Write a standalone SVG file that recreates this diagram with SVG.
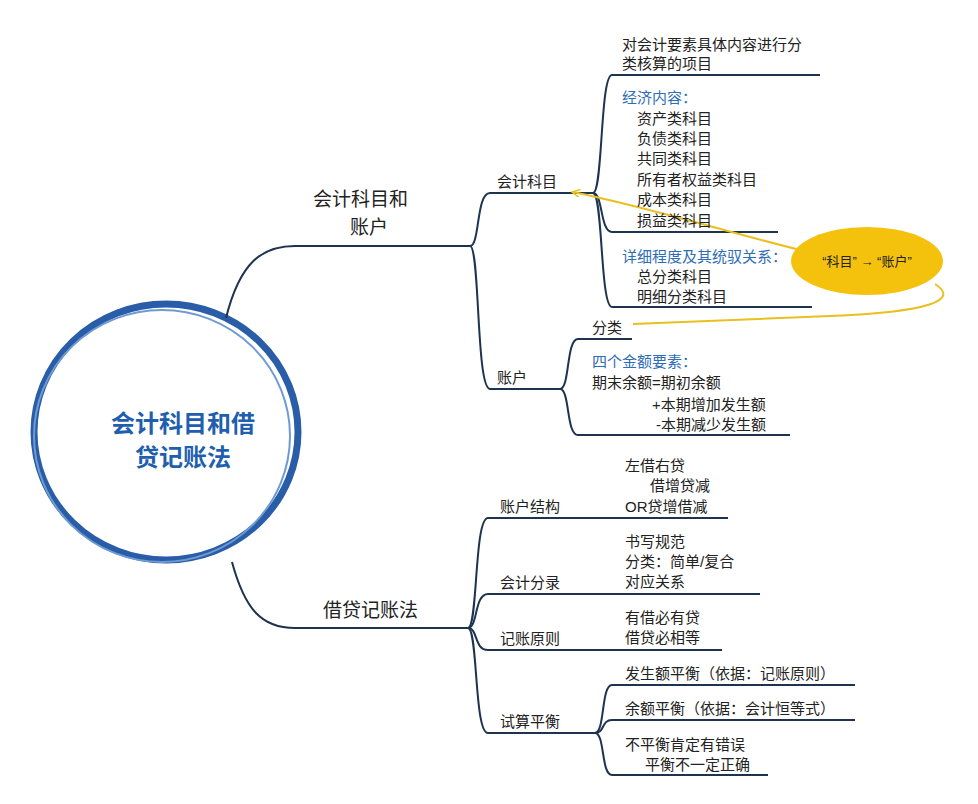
<svg xmlns="http://www.w3.org/2000/svg" width="978" height="804" viewBox="0 0 978 804">
<style>
text{font-family:"Liberation Sans","Noto Sans CJK SC",sans-serif;font-size:15px;fill:#222}
.b{fill:#2f6db5}
.m{font-size:19px}
.c{font-size:24px;font-weight:bold;fill:#1f5fae}
.l{fill:none;stroke:#1e3350;stroke-width:2}
.y{fill:none;stroke:#e8c020;stroke-width:2}
</style>
<defs><marker id="ar" markerWidth="10" markerHeight="10" refX="8" refY="4" orient="auto" markerUnits="userSpaceOnUse"><path d="M0,0 L8,4 L0,8" fill="none" stroke="#e8c020" stroke-width="1.5"/></marker></defs>
<rect width="978" height="804" fill="#fff"/>
<g id="center">
<ellipse cx="166" cy="432" rx="132" ry="128" fill="none" stroke="#2a5da8" stroke-width="7"/>
<ellipse cx="162" cy="436" rx="128" ry="126" fill="none" stroke="#6f9bd3" stroke-width="2"/>
<text class="c" x="183" y="432" text-anchor="middle">会计科目和借</text>
<text class="c" x="183" y="466" text-anchor="middle">贷记账法</text>
</g>
<g id="connectors">
<path class="l" d="M226,318 C240,262 262,246 295,246 L470,246"/>
<path class="l" d="M470,246 C480,246 476,193 490,193 L593,193"/>
<path class="l" d="M470,246 C480,246 476,389 490,389 L560,389"/>
<path class="l" d="M593,193 C603,193 600,75 612,75 L820,75"/>
<path class="l" d="M593,193 C603,193 600,232 612,232 L778,232"/>
<path class="l" d="M593,193 C603,193 600,307 612,307 L812,307"/>
<path class="l" d="M560,389 C570,389 566,339 578,339 L632,339"/>
<path class="l" d="M560,389 C570,389 566,435 578,435 L790,435"/>
<path class="l" d="M232,562 C245,610 262,628 295,628 L468,628"/>
<path class="l" d="M468,628 C478,628 474,518 488,518 L728,518"/>
<path class="l" d="M468,628 C478,628 474,594 488,594 L760,594"/>
<path class="l" d="M468,628 C478,628 474,650 488,650 L722,650"/>
<path class="l" d="M468,628 C478,628 474,733 488,733 L595,733"/>
<path class="l" d="M595,733 C605,733 601,685 612,685 L855,685"/>
<path class="l" d="M595,733 C605,733 601,720 612,720 L855,720"/>
<path class="l" d="M595,733 C605,733 601,775 612,775 L768,775"/>
<path class="y" d="M800,250 C720,230 640,205 572,192" marker-end="url(#ar)"/>
<path class="y" d="M935,284 C960,300 930,312 830,316 C740,320 680,322 633,324"/>
</g>
<g id="n1"><text class="m" x="313" y="206">会计科目和</text><text class="m" x="350" y="234">账户</text></g>
<g id="n2"><text class="m" x="323" y="617">借贷记账法</text></g>
<g id="n3"><text x="497" y="187">会计科目</text></g>
<g id="n4"><text x="497" y="383">账户</text></g>
<g id="n5"><text x="622" y="50">对会计要素具体内容进行分</text><text x="622" y="69">类核算的项目</text></g>
<g id="n6"><text class="b" x="622" y="103">经济内容：</text>
<text x="637" y="124">资产类科目</text><text x="637" y="144">负债类科目</text><text x="637" y="164">共同类科目</text><text x="637" y="185">所有者权益类科目</text><text x="637" y="205">成本类科目</text><text x="637" y="226">损益类科目</text></g>
<g id="n7"><text class="b" x="622" y="262">详细程度及其统驭关系：</text><text x="637" y="282">总分类科目</text><text x="637" y="302">明细分类科目</text></g>
<g id="n8"><ellipse cx="867" cy="261" rx="76" ry="34" fill="#f4c20d"/><text x="867" y="266" text-anchor="middle" style="font-size:13px">“科目” → “账户”</text></g>
<g id="n9"><text x="592" y="333">分类</text></g>
<g id="n10"><text class="b" x="592" y="367">四个金额要素：</text><text x="592" y="388">期末余额=期初余额</text><text x="652" y="410">+本期增加发生额</text><text x="656" y="430">-本期减少发生额</text></g>
<g id="n11"><text x="500" y="512">账户结构</text><text x="625" y="471">左借右贷</text><text x="650" y="491">借增贷减</text><text x="625" y="512">OR贷增借减</text></g>
<g id="n12"><text x="500" y="588">会计分录</text><text x="625" y="547">书写规范</text><text x="625" y="567">分类：简单/复合</text><text x="625" y="587">对应关系</text></g>
<g id="n13"><text x="500" y="644">记账原则</text><text x="625" y="623">有借必有贷</text><text x="625" y="643">借贷必相等</text></g>
<g id="n14"><text x="500" y="727">试算平衡</text><text x="625" y="679">发生额平衡（依据：记账原则）</text><text x="625" y="714">余额平衡（依据：会计恒等式）</text><text x="625" y="750">不平衡肯定有错误</text><text x="645" y="770">平衡不一定正确</text></g>
</svg>
